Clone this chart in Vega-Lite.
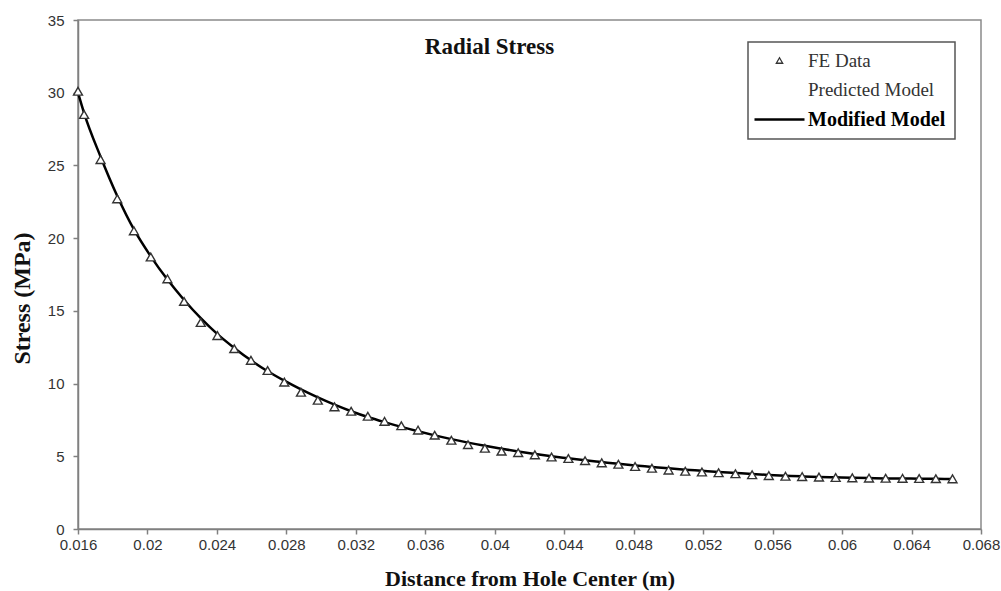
{
  "$schema": "https://vega.github.io/schema/vega-lite/v6.json",
  "width": 903,
  "height": 509,
  "autosize": {"type": "none"},
  "padding": {"left": 78, "top": 20, "right": 20, "bottom": 62},
  "background": "white",
  "title": {"text": "Radial Stress", "font": "Liberation Serif", "fontSize": 23, "fontWeight": "bold", "color": "#111", "anchor": "middle", "offset": 0, "dx": -40, "dy": 64, "baseline": "alphabetic"},
  "data": {"values": [
    {"x": 0.01600, "fe": 30.1, "model": 30.0},
    {"x": 0.01635, "fe": 28.5, "model": 28.6},
    {"x": 0.01730, "fe": 25.4, "model": 25.6},
    {"x": 0.01826, "fe": 22.7, "model": 22.9},
    {"x": 0.01922, "fe": 20.5, "model": 20.6},
    {"x": 0.02019, "fe": 18.7, "model": 18.75},
    {"x": 0.02115, "fe": 17.2, "model": 17.15},
    {"x": 0.02211, "fe": 15.65, "model": 15.75},
    {"x": 0.02307, "fe": 14.2, "model": 14.5},
    {"x": 0.02403, "fe": 13.3, "model": 13.4},
    {"x": 0.02500, "fe": 12.4, "model": 12.45},
    {"x": 0.02596, "fe": 11.6, "model": 11.6},
    {"x": 0.02692, "fe": 10.9, "model": 10.85},
    {"x": 0.02788, "fe": 10.1, "model": 10.2},
    {"x": 0.02884, "fe": 9.4, "model": 9.6},
    {"x": 0.02981, "fe": 8.85, "model": 9.05},
    {"x": 0.03077, "fe": 8.4, "model": 8.55},
    {"x": 0.03173, "fe": 8.1, "model": 8.1},
    {"x": 0.03269, "fe": 7.75, "model": 7.7},
    {"x": 0.03365, "fe": 7.4, "model": 7.35},
    {"x": 0.03462, "fe": 7.1, "model": 7.02},
    {"x": 0.03558, "fe": 6.8, "model": 6.72},
    {"x": 0.03654, "fe": 6.45, "model": 6.44},
    {"x": 0.03750, "fe": 6.1, "model": 6.18},
    {"x": 0.03846, "fe": 5.8, "model": 5.94},
    {"x": 0.03943, "fe": 5.55, "model": 5.72},
    {"x": 0.04039, "fe": 5.35, "model": 5.52},
    {"x": 0.04135, "fe": 5.25, "model": 5.33},
    {"x": 0.04231, "fe": 5.1, "model": 5.16},
    {"x": 0.04327, "fe": 4.95, "model": 5.0},
    {"x": 0.04424, "fe": 4.85, "model": 4.86},
    {"x": 0.04520, "fe": 4.7, "model": 4.72},
    {"x": 0.04616, "fe": 4.55, "model": 4.6},
    {"x": 0.04712, "fe": 4.45, "model": 4.48},
    {"x": 0.04808, "fe": 4.3, "model": 4.37},
    {"x": 0.04905, "fe": 4.18, "model": 4.27},
    {"x": 0.05001, "fe": 4.05, "model": 4.17},
    {"x": 0.05097, "fe": 3.97, "model": 4.08},
    {"x": 0.05193, "fe": 3.92, "model": 4.0},
    {"x": 0.05289, "fe": 3.87, "model": 3.92},
    {"x": 0.05386, "fe": 3.8, "model": 3.85},
    {"x": 0.05482, "fe": 3.73, "model": 3.78},
    {"x": 0.05578, "fe": 3.67, "model": 3.72},
    {"x": 0.05674, "fe": 3.63, "model": 3.67},
    {"x": 0.05770, "fe": 3.6, "model": 3.62},
    {"x": 0.05867, "fe": 3.57, "model": 3.58},
    {"x": 0.05963, "fe": 3.54, "model": 3.55},
    {"x": 0.06059, "fe": 3.52, "model": 3.52},
    {"x": 0.06155, "fe": 3.5, "model": 3.5},
    {"x": 0.06251, "fe": 3.49, "model": 3.48},
    {"x": 0.06348, "fe": 3.48, "model": 3.47},
    {"x": 0.06444, "fe": 3.47, "model": 3.46},
    {"x": 0.06540, "fe": 3.46, "model": 3.45},
    {"x": 0.06636, "fe": 3.45, "model": 3.44}
  ]},
  "encoding": {
    "x": {"field": "x", "type": "quantitative",
      "scale": {"domain": [0.016, 0.068], "nice": false, "zero": false},
      "axis": {"title": "Distance from Hole Center (m)", "values": [0.016, 0.02, 0.024, 0.028, 0.032, 0.036, 0.04, 0.044, 0.048, 0.052, 0.056, 0.06, 0.064, 0.068], "format": ".3~f", "labelPadding": 3, "titleFontSize": 22, "titleY": 56, "titleBaseline": "alphabetic"}}
  },
  "layer": [
    {
      "mark": {"type": "line", "strokeWidth": 2.5, "interpolate": "monotone"},
      "encoding": {
        "y": {"field": "model", "type": "quantitative",
          "scale": {"domain": [0, 35], "nice": false},
          "axis": {"title": "Stress (MPa)", "values": [0, 5, 10, 15, 20, 25, 30, 35], "format": "d", "labelPadding": 9, "titleFontSize": 24, "titleX": -56, "titleY": 278, "titleBaseline": "middle", "titleAngle": -90}},
        "stroke": {"datum": "Modified Model", "type": "nominal",
          "scale": {"domain": ["FE Data", "Predicted Model", "Modified Model"], "range": ["#333333", "#333333", "#000000"]},
          "legend": {
            "title": null, "orient": "none", "legendX": 670, "legendY": 22, "direction": "vertical",
            "symbolSize": 2500, "symbolOffset": 13, "labelOffset": 19, "padding": 9, "rowPadding": 9,
            "strokeColor": "#555555", "fillColor": "white",
            "labelFont": "Liberation Serif", "labelFontSize": 19, "labelColor": "#333333", "labelLimit": 300,
            "encode": {
              "legend": {"update": {"strokeWidth": {"value": 1.5}}},
              "symbols": {"update": {
                "shape": {"signal": "datum.value === 'Modified Model' ? 'stroke' : 'triangle-up'"},
                "size": {"signal": "datum.value === 'Modified Model' ? 2500 : 40"},
                "fill": {"signal": "datum.value === 'Modified Model' ? 'transparent' : 'white'"},
                "stroke": {"signal": "datum.value === 'Modified Model' ? '#000000' : '#333333'"},
                "strokeWidth": {"signal": "datum.value === 'Modified Model' ? 2.5 : 1.3"},
                "opacity": {"signal": "datum.value === 'Predicted Model' ? 0 : 1"}
              }},
              "labels": {"update": {
                "fontWeight": {"signal": "datum.label === 'Modified Model' ? 'bold' : 'normal'"},
                "fontSize": {"signal": "datum.label === 'Modified Model' ? 20 : 19"},
                "fill": {"signal": "datum.label === 'Modified Model' ? '#000000' : '#333333'"}
              }}
            }
          }}
      }
    },
    {
      "mark": {"type": "point", "shape": "triangle-up", "filled": true, "fill": "white", "size": 80, "strokeWidth": 1.4, "opacity": 1},
      "encoding": {
        "y": {"field": "fe", "type": "quantitative"},
        "stroke": {"datum": "FE Data", "type": "nominal"}
      }
    }
  ],
  "config": {
    "view": {"stroke": "#8a8a8a", "strokeWidth": 1.5},
    "axis": {"grid": false, "domainColor": "#808080", "domainWidth": 1.5, "tickColor": "#808080", "tickWidth": 1.5, "tickSize": 5,
      "labelFont": "Liberation Sans", "labelFontSize": 15, "labelColor": "#333333", "labelFlush": false, "labelOverlap": false,
      "titleFont": "Liberation Serif", "titleFontWeight": "bold", "titleColor": "#111111"}
  }
}
